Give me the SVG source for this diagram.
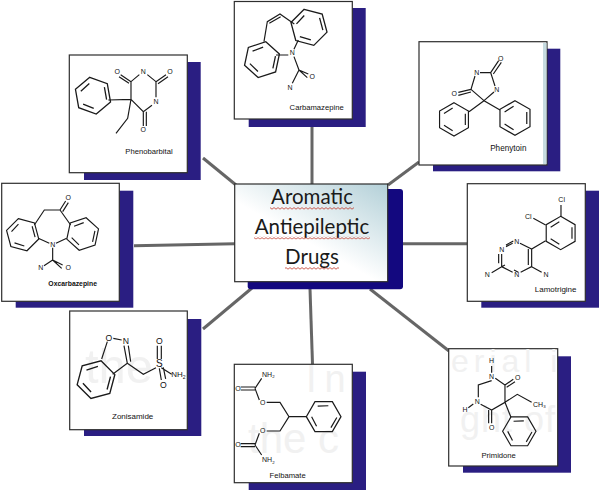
<svg xmlns="http://www.w3.org/2000/svg" xmlns:xlink="http://www.w3.org/1999/xlink" width="600" height="491" viewBox="0 0 600 491">
<style>
.box{fill:#fff;stroke:#2e2e2e;stroke-width:1.2}
.sh{fill:#2a1e82}
.c{stroke:#666;stroke-width:3;fill:none}
.b{fill:none;stroke:#1a1a1a;stroke-width:3.5}
.a{font-family:"Liberation Sans",Arial,sans-serif;font-size:21px;fill:#111;text-anchor:middle;dominant-baseline:central}
.l{font-family:"Liberation Sans",Arial,sans-serif;font-size:23px;fill:#111;text-anchor:middle}
.g{font-family:"Liberation Sans",Arial,sans-serif;fill:#f1f1f1}
.t{font-family:Lato,"Open Sans",sans-serif;font-size:20.5px;fill:#1a1a1a;text-anchor:middle}
</style>
<defs>
<g id="bz"><path class="b" d="M0-50L43.3-25V25L0 50L-43.3 25V-25ZM34-17V17M-30 17.5L-4 34M-30-17.5L-4-34"/></g>
<linearGradient id="cg" x1="1" y1="0" x2="0.25" y2="0.85"><stop offset="0" stop-color="#b3d0d8"/><stop offset="0.7" stop-color="#fff"/></linearGradient>
<pattern id="sq" width="4" height="3" patternUnits="userSpaceOnUse"><path d="M0 2.2L2 .6L4 2.2" fill="none" stroke="#c0392b" stroke-width=".8"/></pattern>
</defs>
<rect width="600" height="491" fill="#fff"/>
<g id="connectors">
<path class="c" d="M312 127V184"/>
<path class="c" d="M203 158L236 185"/>
<path class="c" d="M419 162L388 185"/>
<path class="c" d="M403 243.7H467"/>
<path class="c" d="M134 245.7L235 243.7"/>
<path class="c" d="M203 329L252 288"/>
<path class="c" d="M310 289L312.5 364"/>
<path class="c" d="M370 289L449 351"/>
</g>
<g id="center">
<rect x="247.7" y="189" width="155.3" height="100.3" rx="3" fill="#13087f"/>
<rect x="234.7" y="184" width="153" height="97.7" fill="url(#cg)" stroke="#2e2e2e" stroke-width="1.2"/>
<text class="t" x="312" y="204">Aromatic</text>
<text class="t" x="312" y="234">Antiepileptic</text>
<text class="t" x="312" y="263.500">Drugs</text>
<rect x="270" y="207" width="84" height="3" fill="url(#sq)"/>
<rect x="254" y="236.500" width="116" height="3" fill="url(#sq)"/>
<rect x="285" y="267" width="54" height="3" fill="url(#sq)"/>
</g>
<g id="phenobarbital">
<rect class="sh" x="84" y="62" width="116.700" height="118"/>
<rect class="box" x="69.300" y="55" width="118" height="117.700"/>
<g transform="translate(60,0) scale(.3333)">
<use xlink:href="#bz" href="#bz" transform="translate(99,287) rotate(-10) scale(1.12)"/>
<path class="b" d="M145 300L213 298V245L238 224M262 224L288 245V292M276 316L250 335L213 298M213 245L182 224M207 250L177 230M288 245L318 224M294 251L324 230M250 335V378M259 335V378M213 298L203 355L168 400"/>
<text class="a" x="250" y="215">N</text><text class="a" x="288" y="305">N</text><text class="a" x="172" y="215">O</text><text class="a" x="330" y="215">O</text><text class="a" x="250" y="390">O</text>
<text class="l" x="267" y="462">Phenobarbital</text>
</g>
</g>
<g id="carbamazepine">
<rect class="sh" x="248.700" y="8" width="117" height="119"/>
<rect class="box" x="234.300" y="1.500" width="118" height="117.500"/>
<g transform="translate(60,0) scale(.3333)">
<use xlink:href="#bz" href="#bz" transform="translate(747,82) rotate(-15) scale(1.12)"/>
<use xlink:href="#bz" href="#bz" transform="translate(606,179) rotate(12) scale(1.1)"/>
<path class="b" d="M612 125L622 65L660 42L703 72M628 70L662 50M715 120L702 148M648 165H685M702 170L717 210L745 222M717 210L742 233M717 210L697 250"/>
<text class="a" x="697" y="158">N</text><text class="a" x="757" y="229">O</text><text class="a" x="690" y="263">N</text>
<text class="l" x="770" y="329">Carbamazepine</text>
</g>
</g>
<g id="phenytoin">
<rect class="sh" x="433" y="48.700" width="127.300" height="122.600"/>
<rect class="box" x="419" y="41.700" width="128" height="123.300"/>
<rect x="543" y="43" width="3.500" height="121" fill="#c6dbe0"/>
<g transform="translate(400,30) scale(.3333)">
<use xlink:href="#bz" href="#bz" transform="translate(162,268)"/>
<use xlink:href="#bz" href="#bz" transform="translate(345,264) scale(1.04)"/>
<path class="b" d="M207 245L252 212L300 240M252 212L213 178L225 138M240 128H272L285 168M252 212L282 186M213 178L175 187M213 186L175 196M272 128L296 92M280 132L304 97"/>
<text class="a" x="230" y="128">N</text><text class="a" x="290" y="178">N</text><text class="a" x="163" y="190">O</text><text class="a" x="302" y="85">O</text>
<text class="l" x="325" y="362" style="font-size:24.500px">Phenytoin</text>
</g>
</g>
<g id="lamotrigine">
<rect class="sh" x="481.300" y="190.700" width="117.700" height="117"/>
<rect class="box" x="467.300" y="183.700" width="118" height="117.600"/>
<g transform="translate(400,30) scale(.3333)">
<use xlink:href="#bz" href="#bz" transform="translate(482,609)"/>
<path class="b" d="M483 560V525M437 585L400 565M437 632L395 657L360 640M385 657V705M395 657V710L362 727M338 727L305 710L315 705M305 710V672M296 700V672M338 640L318 650M340 633L318 645M305 710L275 728M395 710L425 727M355 727L342 720"/>
<text class="a" x="485" y="510">Cl</text><text class="a" x="385" y="560">Cl</text><text class="a" x="350" y="635">N</text><text class="a" x="305" y="660">N</text><text class="a" x="350" y="733">N</text><text class="a" x="262" y="733">N</text><text class="a" x="438" y="733">N</text>
<text class="l" x="467" y="785" style="font-size:24px">Lamotrigine</text>
</g>
</g>
<g id="oxcarbazepine">
<rect class="sh" x="15.700" y="190.700" width="117.600" height="117"/>
<rect class="box" x="1.700" y="183.300" width="117.600" height="118"/>
<g transform="translate(0,175) scale(.3333)">
<use xlink:href="#bz" href="#bz" transform="translate(68,179) rotate(-15)"/>
<use xlink:href="#bz" href="#bz" transform="translate(248,177) rotate(12)"/>
<path class="b" d="M103 150L133 105H180L212 150M180 105L197 78M188 110L205 83M115 190L148 205M200 190L168 205M158 218V255L188 270M158 255L185 280M158 255L132 272"/>
<text class="a" x="158" y="208">N</text><text class="a" x="205" y="68">O</text><text class="a" x="205" y="278">O</text><text class="a" x="122" y="278">N</text>
<text class="l" x="218" y="332" font-weight="bold" style="font-size:20.500px">Oxcarbazepine</text>
</g>
</g>
<g id="zonisamide">
<rect class="sh" x="84" y="319" width="117.300" height="117"/>
<rect class="box" x="69.700" y="311" width="117.600" height="118.700"/>
<text class="g" x="85" y="383" font-size="49">the</text>
<g transform="translate(0,175) scale(.3333)">
<use xlink:href="#bz" href="#bz" transform="translate(288,614) rotate(15) scale(1.17)"/>
<path class="b" d="M305 552L322 500M340 490L365 495M372 512L382 565L338 598M385 512L392 560M382 565L430 598L468 578M484 578L515 598M472 512V552M484 512V552M478 580L484 615M490 577L497 612"/>
<text class="a" x="327" y="488" style="font-size:26px">O</text><text class="a" x="378" y="498" style="font-size:26px">N</text><text class="a" x="478" y="565" style="font-size:30px">S</text><text class="a" x="478" y="497" style="font-size:26px">O</text><text class="a" x="490" y="630" style="font-size:26px">O</text>
<text class="a" x="535" y="600" style="font-size:24px">NH<tspan font-size="15" dy="6">2</tspan></text>
<text class="l" x="398" y="731" style="font-size:24px">Zonisamide</text>
</g>
</g>
<g id="felbamate">
<rect class="sh" x="248.700" y="371.700" width="117.300" height="118.300"/>
<rect class="box" x="234.300" y="364.300" width="118" height="118.400"/>
<text class="g" x="306" y="392" font-size="38" letter-spacing="8">In</text>
<text class="g" x="248" y="453" font-size="42">the c</text>
<g transform="translate(220,340) scale(.3333)">
<use xlink:href="#bz" href="#bz" transform="translate(311,230) rotate(30) scale(1.04)"/>
<path class="b" d="M62 141H105M62 150H105M105 145L125 115M105 145L118 180M140 187H180L207 230L180 273H140M207 230H260M118 280L105 315M62 311H105M62 320H105M105 315L125 345"/>
<text class="a" x="54" y="145">O</text><text class="a" x="54" y="315">O</text><text class="a" x="128" y="187">O</text><text class="a" x="128" y="273">O</text>
<text class="a" x="145" y="103">NH<tspan font-size="13" dy="5">2</tspan></text><text class="a" x="145" y="360">NH<tspan font-size="13" dy="5">2</tspan></text>
<text class="l" x="203" y="415">Felbamate</text>
</g>
</g>
<g id="primidone">
<rect class="sh" x="463" y="356.300" width="108" height="116.400"/>
<rect class="box" x="448.700" y="348.700" width="109" height="117.300"/>
<text class="g" x="451" y="372" font-size="32" letter-spacing="5">erial i</text>
<text class="g" x="460" y="432" font-size="36" letter-spacing="1">ght of</text>
<g transform="translate(220,340) scale(.3333)">
<use xlink:href="#bz" href="#bz" transform="translate(898,274) rotate(30)"/>
<path class="b" d="M815 122L775 135V172M782 193L815 210L855 187V135L826 115M855 135L880 118M860 142L885 125M815 210V250M806 210V250M855 187L892 163L935 187M855 187L873 232M815 98V78M760 192L745 203"/>
<text class="a" x="815" y="110">N</text><text class="a" x="772" y="185">N</text><text class="a" x="815" y="63">H</text><text class="a" x="735" y="210">H</text><text class="a" x="893" y="112">O</text><text class="a" x="815" y="262">O</text>
<text class="a" x="958" y="193">CH<tspan font-size="13" dy="5">3</tspan></text>
<text class="l" x="836" y="355">Primidone</text>
</g>
</g>
</svg>
